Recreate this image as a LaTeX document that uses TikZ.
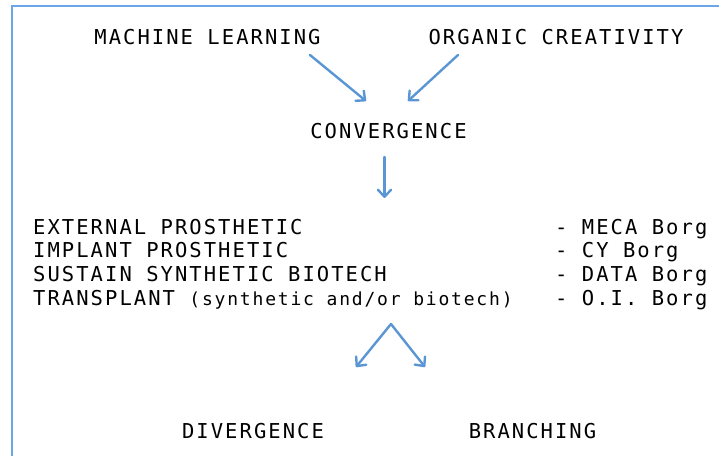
\documentclass[tikz,border=0pt]{standalone}
\usepackage{fontspec}
\setmonofont[LetterSpace=10]{DejaVu Sans Mono}
\newfontfamily\smallmono[LetterSpace=10]{DejaVu Sans Mono}
\usetikzlibrary{arrows.meta}
\definecolor{borderblue}{RGB}{108,166,232}
\definecolor{arrowblue}{RGB}{91,150,212}
\tikzset{
  lbl/.style={inner sep=0pt, font=\ttfamily\fontsize{20.5}{24}\selectfont, text=black},
  conn/.style={draw=arrowblue, line width=2.4pt, line cap=round, -{Straight Barb[length=7pt,width=13pt,line width=2.4pt,round]}},
}
\begin{document}
\begin{tikzpicture}[x=1pt,y=-1pt]
\useasboundingbox (0,0) rectangle (719,455);
\draw[borderblue, line width=2.2pt] (12,460) -- (12,6) -- (725,6);
% titles
\node[lbl, anchor=base] (ml) at (207.5,44) {MACHINE LEARNING};
\node[lbl, anchor=base] (oc) at (556,44) {ORGANIC CREATIVITY};
\node[lbl, anchor=base] (conv) at (388.5,138) {CONVERGENCE};
% list
\node[lbl, anchor=base west] (l1) at (33,234) {EXTERNAL PROSTHETIC};
\node[lbl, anchor=base west] (l2) at (33,257.5) {IMPLANT PROSTHETIC};
\node[lbl, anchor=base west] (l3) at (33,281) {SUSTAIN SYNTHETIC BIOTECH};
\node[lbl, anchor=base west] (l4) at (33,305) {TRANSPLANT {\smallmono\fontsize{18}{22}\selectfont(synthetic and/or biotech)}};
\node[lbl, anchor=base west] (r1) at (555,234) {- MECA Borg};
\node[lbl, anchor=base west] (r2) at (555,257.5) {- CY Borg};
\node[lbl, anchor=base west] (r3) at (555,281) {- DATA Borg};
\node[lbl, anchor=base west] (r4) at (555,305) {- O.I. Borg};
% bottom
\node[lbl, anchor=base] (div) at (253,438) {DIVERGENCE};
\node[lbl, anchor=base] (br) at (532.5,438) {BRANCHING};
% connector ends
\coordinate (a1s) at (310,55);
\coordinate (a1e) at (366,101);
\coordinate (a2s) at (458,55);
\coordinate (a2e) at (408,101);
\coordinate (a3s) at (384.5,157);
\coordinate (a3e) at (384.5,198);
\coordinate (a4s) at (391,324);
\coordinate (a4e) at (356,367);
\coordinate (a5e) at (425,367);
\draw[conn] (a1s) -- (a1e);
\draw[conn] (a2s) -- (a2e);
\draw[conn] (a3s) -- (a3e);
\draw[conn] (a4s) -- (a4e);
\draw[conn] (a4s) -- (a5e);
\end{tikzpicture}
\end{document}
